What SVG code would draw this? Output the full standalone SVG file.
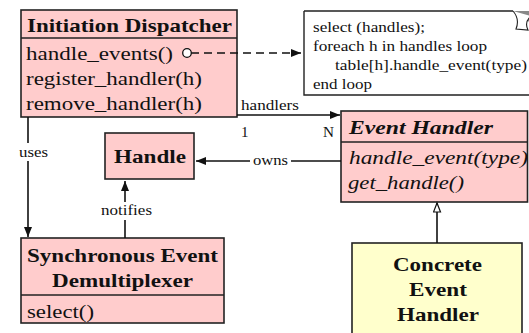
<svg xmlns="http://www.w3.org/2000/svg" width="529" height="333" viewBox="0 0 529 333">
<style>
.box{fill:#ffcccc;stroke:#222;stroke-width:1.6}
.ybox{fill:#ffffcc;stroke:#222;stroke-width:1.6}
.sep{stroke:#222;stroke-width:1.6}
.ln{stroke:#111;stroke-width:1.6;fill:none}
.t{font-family:"Liberation Serif","Times New Roman",serif;fill:#111}
.tb{font-family:"Liberation Serif","Times New Roman",serif;font-weight:bold;fill:#111}
.tbi{font-family:"Liberation Serif","Times New Roman",serif;font-weight:bold;font-style:italic;fill:#111}
.ti{font-family:"Liberation Serif","Times New Roman",serif;font-style:italic;fill:#111}
</style>
<defs>
<marker id="arr" markerUnits="userSpaceOnUse" markerWidth="12" markerHeight="10" refX="10" refY="4" orient="auto">
<path d="M0,0 L10,4 L0,8 z" fill="#111"/>
</marker>
<marker id="tri" markerUnits="userSpaceOnUse" markerWidth="12" markerHeight="10" refX="10" refY="4" orient="auto">
<path d="M1,0.5 L10,4 L1,7.5 z" fill="#fff" stroke="#111" stroke-width="1.2"/>
</marker>
</defs>
<rect width="529" height="333" fill="#fff"/>

<g id="note">
<path d="M304,11 L513,11 M304,11 L304,95 L531,95" fill="none" stroke="#222" stroke-width="1.4"/>
<polygon points="513,11 531,11 531,23" fill="#888"/>
<path d="M513,11 Q520,19 516,29 L528,30 Q524,22 531,16" fill="#fff" stroke="#222" stroke-width="1.1"/>
<text class="t" x="313" y="32" font-size="14" textLength="112" lengthAdjust="spacingAndGlyphs">select (handles);</text>
<text class="t" x="313" y="51" font-size="14" textLength="174" lengthAdjust="spacingAndGlyphs">foreach h in handles loop</text>
<text class="t" x="335" y="70" font-size="14" textLength="192" lengthAdjust="spacingAndGlyphs">table[h].handle_event(type)</text>
<text class="t" x="313" y="89" font-size="14" textLength="59" lengthAdjust="spacingAndGlyphs">end loop</text>
</g>

<g id="initiation-dispatcher">
<rect class="box" x="21" y="10" width="216" height="107"/>
<line class="sep" x1="21" y1="38" x2="237" y2="38"/>
<text class="tb" x="27" y="32" font-size="19.5" textLength="205" lengthAdjust="spacingAndGlyphs">Initiation Dispatcher</text>
<text class="t" x="26" y="60" font-size="19.5" textLength="147" lengthAdjust="spacingAndGlyphs">handle_events()</text>
<text class="t" x="26" y="85" font-size="19.5" textLength="176" lengthAdjust="spacingAndGlyphs">register_handler(h)</text>
<text class="t" x="26" y="110" font-size="19.5" textLength="176" lengthAdjust="spacingAndGlyphs">remove_handler(h)</text>
</g>

<g id="handle">
<rect class="box" x="105" y="133" width="89" height="46"/>
<text class="tb" x="114" y="163" font-size="19.5" textLength="72" lengthAdjust="spacingAndGlyphs">Handle</text>
</g>

<g id="event-handler">
<rect class="box" x="341" y="111" width="186.5" height="91"/>
<line class="sep" x1="341" y1="142" x2="527.5" y2="142"/>
<text class="tbi" x="349" y="134" font-size="19.5" textLength="144" lengthAdjust="spacingAndGlyphs">Event  Handler</text>
<text class="ti" x="349" y="164" font-size="19.5" textLength="179" lengthAdjust="spacingAndGlyphs">handle_event(type)</text>
<text class="ti" x="348" y="189" font-size="19.5" textLength="116" lengthAdjust="spacingAndGlyphs">get_handle()</text>
</g>

<g id="sync-demux">
<rect class="box" x="21" y="238" width="203" height="85"/>
<line class="sep" x1="21" y1="295" x2="224" y2="295"/>
<text class="tb" x="27" y="262" font-size="19.5" textLength="191" lengthAdjust="spacingAndGlyphs">Synchronous Event</text>
<text class="tb" x="52" y="287" font-size="19.5" textLength="141" lengthAdjust="spacingAndGlyphs">Demultiplexer</text>
<text class="t" x="27" y="318" font-size="19.5" textLength="67" lengthAdjust="spacingAndGlyphs">select()</text>
</g>

<g id="concrete-event-handler">
<rect class="ybox" x="352" y="243" width="170" height="95"/>
<text class="tb" x="393" y="271" font-size="19.5" textLength="89" lengthAdjust="spacingAndGlyphs">Concrete</text>
<text class="tb" x="409" y="296" font-size="19.5" textLength="58" lengthAdjust="spacingAndGlyphs">Event</text>
<text class="tb" x="397" y="321" font-size="19.5" textLength="82" lengthAdjust="spacingAndGlyphs">Handler</text>
</g>

<g id="connectors">
<line class="ln" x1="191" y1="53" x2="301" y2="53" stroke-dasharray="8,5" marker-end="url(#arr)"/>
<circle cx="187" cy="53" r="4.3" fill="#fff" stroke="#111" stroke-width="1.3"/>
<line class="ln" x1="237" y1="115" x2="340" y2="115" marker-end="url(#arr)"/>
<text class="t" x="241" y="110" font-size="15" textLength="58" lengthAdjust="spacingAndGlyphs">handlers</text>
<text class="t" x="241" y="137" font-size="15">1</text>
<text class="t" x="323" y="137" font-size="15" textLength="11" lengthAdjust="spacingAndGlyphs">N</text>
<line class="ln" x1="341" y1="161" x2="291" y2="161"/>
<line class="ln" x1="250" y1="161" x2="196" y2="161" marker-end="url(#arr)"/>
<text class="t" x="253" y="165" font-size="15" textLength="35" lengthAdjust="spacingAndGlyphs">owns</text>
<line class="ln" x1="28" y1="117" x2="28" y2="143"/>
<line class="ln" x1="28" y1="161" x2="28" y2="237" marker-end="url(#arr)"/>
<text class="t" x="19" y="157" font-size="15" textLength="29" lengthAdjust="spacingAndGlyphs">uses</text>
<line class="ln" x1="125" y1="238" x2="125" y2="220"/>
<line class="ln" x1="125" y1="202" x2="125" y2="181" marker-end="url(#arr)"/>
<text class="t" x="101" y="215" font-size="15" textLength="51" lengthAdjust="spacingAndGlyphs">notifies</text>
<line class="ln" x1="437" y1="243" x2="437" y2="203" marker-end="url(#tri)"/>
</g>
</svg>
